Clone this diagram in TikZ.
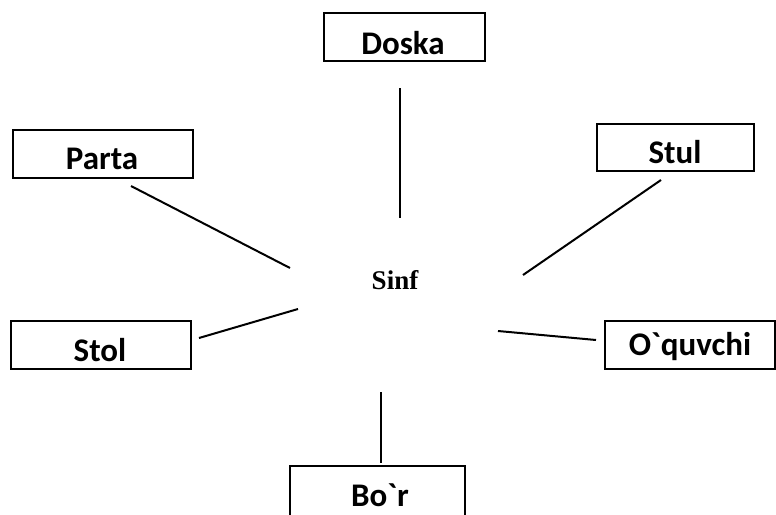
\documentclass[tikz,border=0pt]{standalone}
\usepackage{fontspec}
\setmainfont{Liberation Serif}
\newfontfamily\boxfont{Carlito}
\begin{document}
\begin{tikzpicture}[x=1pt,y=-1pt,
  itembox/.style={draw=black, line width=2.2pt, inner sep=0pt, anchor=north west},
  itemlabel/.style={font=\boxfont\bfseries\fontsize{33}{36}\selectfont, inner sep=0pt},
  link/.style={line width=2pt}]
\useasboundingbox (0,0) rectangle (776,514);
% boxes
\node[itembox, minimum width=161pt, minimum height=48pt] (doska) at (323,12) {};
\node[itemlabel] at (403,43) {Doska};
\node[itembox, minimum width=180pt, minimum height=48pt] (parta) at (12,129) {};
\node[itemlabel] at (102,159) {Parta};
\node[itembox, minimum width=157pt, minimum height=47pt] (stul) at (596,123) {};
\node[itemlabel] at (675,152) {Stul};
\node[itembox, minimum width=180pt, minimum height=48pt] (stol) at (10,320) {};
\node[itemlabel] at (100,350) {Stol};
\node[itembox, minimum width=170pt, minimum height=48pt] (oquvchi) at (604,320) {};
\node[itemlabel] at (690,347) {O`quvchi};
\node[itembox, minimum width=175pt, minimum height=52pt] (bor) at (289,465) {};
\node[itemlabel] at (380,495) {Bo`r};
% centre
\node[font=\bfseries\fontsize{27}{30}\selectfont, inner sep=0pt] (sinf) at (395,280) {Sinf};
% connector ends
\coordinate (d1) at (400,88); \coordinate (d2) at (400,218);
\coordinate (p1) at (131,186); \coordinate (p2) at (290,268);
\coordinate (s1) at (661,180); \coordinate (s2) at (523,275);
\coordinate (t1) at (199,338); \coordinate (t2) at (298,309);
\coordinate (o1) at (596,340); \coordinate (o2) at (498,331);
\coordinate (b1) at (381,392); \coordinate (b2) at (381,463);
\draw[link] (d1) -- (d2);
\draw[link] (p1) -- (p2);
\draw[link] (s1) -- (s2);
\draw[link] (t1) -- (t2);
\draw[link] (o1) -- (o2);
\draw[link] (b1) -- (b2);
\end{tikzpicture}
\end{document}
